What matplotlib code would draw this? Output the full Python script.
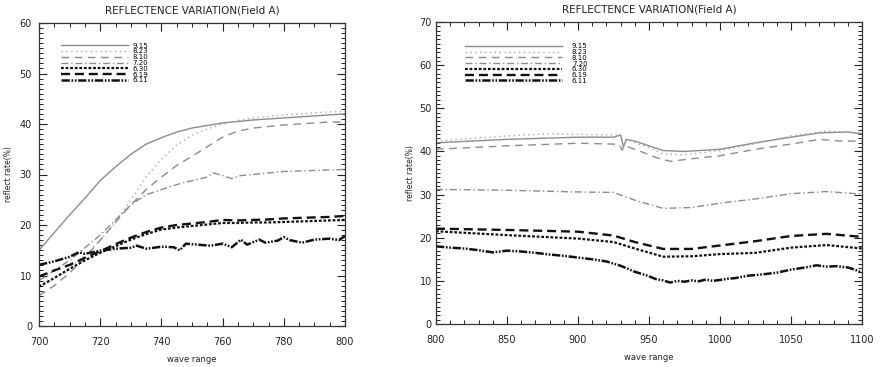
import matplotlib
matplotlib.use('Agg')
import matplotlib.pyplot as plt
from matplotlib.ticker import MultipleLocator

plt.rcParams['font.family'] = 'DejaVu Sans'
plt.rcParams['lines.scale_dashes'] = False

labels = ['9.15', '8.23', '8.10', '7.20', '6.30', '6.19', '6.11']

# ---- left panel: 700-800 ----
wl5 = [700, 705, 710, 715, 720, 725, 730, 735, 740, 745, 750,
       755, 760, 765, 770, 775, 780, 785, 790, 795, 800]
a_915 = [15, 18.5, 22, 25.3, 28.8, 31.5, 34, 36, 37.3, 38.4, 39.2,
         39.7, 40.2, 40.5, 40.8, 41, 41.2, 41.4, 41.6, 41.8, 42]
a_823 = [7.5, 9.5, 11.5, 14, 17, 20.5, 25, 29.5, 33, 35.8, 37.8,
         39, 40, 40.7, 41.2, 41.5, 41.8, 42, 42.2, 42.4, 42.5]
a_810 = [6, 8, 10.5, 13.5, 17, 20.5, 24, 27, 29.5, 31.8, 33.6,
         35.5, 37.4, 38.6, 39.2, 39.5, 39.8, 40, 40.2, 40.4, 40.4]
wl_720a = [700, 705, 710, 715, 720, 725, 730, 735, 740, 745, 750, 755, 757,
           760, 763, 766, 770, 775, 780, 790, 800]
a_720 = [9, 11, 13, 15.5, 18, 21, 24, 26, 27, 28, 28.8, 29.5, 30.3,
         29.8, 29.2, 29.8, 30, 30.3, 30.6, 30.8, 31]
a_630 = [7.8, 9.5, 11.3, 13, 14.5, 15.8, 17.1, 18.2, 19.1, 19.5, 19.8,
         20.1, 20.4, 20.4, 20.5, 20.5, 20.6, 20.7, 20.8, 20.9, 21]
a_619 = [9.8, 11, 12.1, 13.5, 14.8, 16.2, 17.5, 18.6, 19.5, 20, 20.3,
         20.6, 21, 20.9, 21, 21.1, 21.3, 21.4, 21.5, 21.6, 21.8]
wl_611a = [700, 705, 710, 713, 715, 720, 725, 730, 732, 735, 740, 744, 746,
           748, 752, 756, 760, 763, 766, 768, 772, 774, 778, 780, 782,
           786, 790, 795, 798, 800]
a_611 = [12.1, 12.8, 13.7, 14.6, 14.3, 14.9, 15.3, 15.5, 15.9, 15.3, 15.7,
         15.6, 15.0, 16.3, 16.1, 15.9, 16.3, 15.6, 17.1, 16.1, 17.1, 16.5,
         16.9, 17.6, 17.0, 16.5, 17.1, 17.3, 17.0, 17.8]

# ---- right panel: 800-1100 ----
wl_b1 = [800, 850, 900, 925, 930, 932, 934, 940, 950, 960, 975, 1000,
         1025, 1050, 1070, 1090, 1100]
b_915 = [42, 42.8, 43.3, 43.3, 43.8, 41.0, 42.8, 42.4, 41.3, 40.2, 40,
         40.5, 42, 43.3, 44.3, 44.5, 44.1]
wl_b2 = [800, 850, 880, 925, 930, 932, 934, 940, 950, 960, 975, 1000,
         1025, 1050, 1075, 1100]
b_823 = [42.4, 43.6, 44.1, 43.8, 43.8, 41.6, 42.8, 42, 40.9, 39.4, 39.2,
         40.2, 41.8, 43.6, 44.7, 44.3]
wl_b3 = [800, 850, 900, 925, 929, 931, 933, 940, 955, 965, 980, 1000,
         1025, 1050, 1070, 1085, 1100]
b_810 = [40.5, 41.3, 41.9, 41.7, 41.6, 40.3, 41.3, 40.5, 38.6, 37.7, 38.3,
         39, 40.5, 41.7, 42.8, 42.4, 42.4]
wl_b4 = [800, 850, 900, 925, 940, 960, 980, 1000, 1025, 1050, 1075, 1100]
b_720 = [31.2, 31, 30.6, 30.5, 28.7, 26.8, 27, 28, 29, 30.2, 30.7, 30.1]
b_630 = [21.5, 20.6, 19.8, 19, 17.5, 15.6, 15.7, 16.2, 16.5, 17.7, 18.3, 17.5]
b_619 = [22.1, 21.8, 21.4, 20.5, 19, 17.4, 17.4, 18.2, 19.2, 20.4, 20.9, 20.2]
wl_b5 = [800, 810, 820, 830, 840, 850, 860, 870, 880, 890, 900, 910, 920,
         930, 940, 948, 955, 960, 965, 970, 975, 980, 985, 990, 995, 1000,
         1005, 1010, 1020, 1030, 1040, 1050, 1060, 1068, 1075, 1082, 1090,
         1095, 1100]
b_611 = [18, 17.7, 17.5, 17.1, 16.6, 17.0, 16.8, 16.5, 16.1, 15.8, 15.4,
         15.0, 14.5, 13.5, 12.1, 11.3, 10.4, 10.1, 9.6, 10.0, 9.8, 10.1,
         9.9, 10.3, 10.0, 10.2, 10.5, 10.6, 11.2, 11.5, 11.9, 12.6, 13.1,
         13.6, 13.3, 13.4, 13.1, 12.6, 11.9]

gray = '#8c8c8c'
styles = [
    dict(color=gray, lw=1.0, linestyle='-'),
    dict(color='#a8a8a8', lw=1.0, linestyle=(0, (1, 2.5))),
    dict(color=gray, lw=1.0, linestyle=(0, (5.5, 4))),
    dict(color=gray, lw=1.0, linestyle=(0, (5, 2, 1, 2))),
    dict(color='#111111', lw=1.6, linestyle=(0, (2, 1.3))),
    dict(color='#111111', lw=1.7, linestyle=(0, (6.5, 3.5))),
    dict(color='#111111', lw=1.8, linestyle=(0, (6, 1.2, 1.2, 1.2, 1.2, 1.2))),
]

fig = plt.figure(figsize=(8.82, 3.67), dpi=100)
ax1 = fig.add_axes([39 / 882, 41 / 367, 306 / 882, 303 / 367])
ax2 = fig.add_axes([436 / 882, 43 / 367, 426 / 882, 302 / 367])

left_series = [(wl5, a_915), (wl5, a_823), (wl5, a_810), (wl_720a, a_720),
               (wl5, a_630), (wl5, a_619), (wl_611a, a_611)]
right_series = [(wl_b1, b_915), (wl_b2, b_823), (wl_b3, b_810), (wl_b4, b_720),
                (wl_b4, b_630), (wl_b4, b_619), (wl_b5, b_611)]

for (x, y), lab, st in zip(left_series, labels, styles):
    ax1.plot(x, y, label=lab, **st)
for (x, y), lab, st in zip(right_series, labels, styles):
    ax2.plot(x, y, label=lab, **st)

ax1.set_xlim(700, 800)
ax1.set_ylim(0, 60)
ax1.xaxis.set_major_locator(MultipleLocator(20))
ax1.xaxis.set_minor_locator(MultipleLocator(5))
ax2.set_xlim(800, 1100)
ax2.set_ylim(0, 70)
ax2.xaxis.set_major_locator(MultipleLocator(50))
ax2.xaxis.set_minor_locator(MultipleLocator(10))

for ax in (ax1, ax2):
    ax.yaxis.set_major_locator(MultipleLocator(10))
    ax.yaxis.set_minor_locator(MultipleLocator(1))
    ax.tick_params(which='both', direction='in', top=True, right=True,
                   labelsize=7, colors='#222222')
    ax.tick_params(which='major', length=5.5, width=0.8)
    ax.tick_params(which='minor', length=3, width=0.7)
    ax.tick_params(axis='x', pad=8)
    for sp in ax.spines.values():
        sp.set_linewidth(0.9)
        sp.set_color('#333333')
    ax.set_title('REFLECTENCE VARIATION(Field A)', fontsize=7.5, pad=7,
                 color='#222222')
    ax.set_xlabel('wave range', fontsize=6, labelpad=6, color='#222222')
    ax.set_ylabel('reflect rate(%)', fontsize=5.5, color='#222222')

ax1.tick_params(axis='y', pad=5)
ax2.tick_params(axis='y', pad=3)
ax1.yaxis.set_label_coords(-0.085, 0.5)
ax2.yaxis.set_label_coords(-0.05, 0.5)

ax1.legend(loc='upper left', bbox_to_anchor=(0.072, 0.935), frameon=False,
           fontsize=5, handlelength=9.6, handletextpad=0.7,
           labelspacing=-0.03, borderpad=0, borderaxespad=0)
ax2.legend(loc='upper left', bbox_to_anchor=(0.068, 0.93), frameon=False,
           fontsize=5, handlelength=14, handletextpad=1.4,
           labelspacing=-0.03, borderpad=0, borderaxespad=0)

fig.savefig('out.png', dpi=100)
